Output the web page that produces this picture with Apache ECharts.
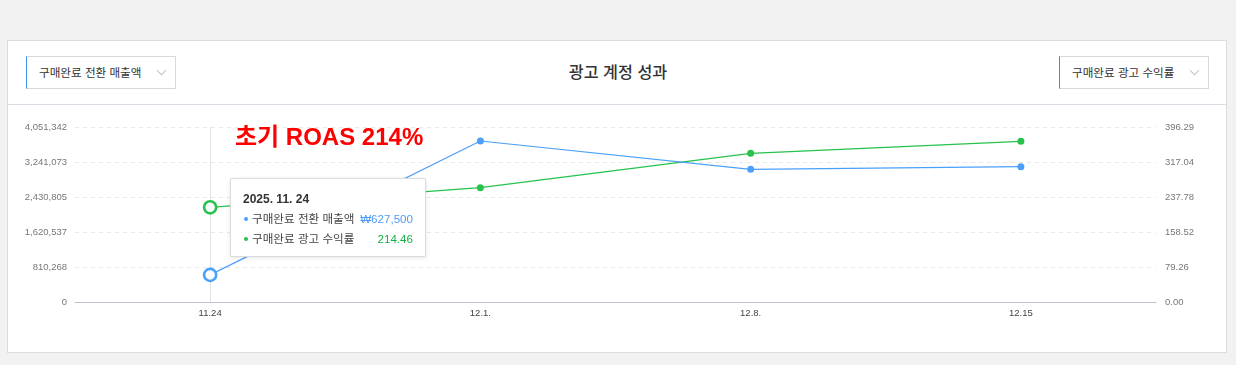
<!DOCTYPE html>
<html>
<head>
<meta charset="utf-8">
<script src="https://cdn.jsdelivr.net/npm/echarts@6/dist/echarts.min.js"></script>
<style>
  html, body { margin:0; padding:0; background:#f2f2f2; width:1236px; height:365px; overflow:hidden;
    font-family:"Liberation Sans","Noto Sans CJK KR",sans-serif; }
  #card { position:absolute; left:7px; top:40px; width:1220px; height:313px; box-sizing:border-box;
    background:#fff; border:1px solid #dcdcdc; }
  #divider { position:absolute; left:8px; top:104px; width:1218px; height:1px; background:#dcdbe6; }
  .dd { position:absolute; top:56px; width:150px; height:33px; box-sizing:border-box; border:1px solid #d9d9d9;
    font-size:11.6px; color:#333; line-height:31px; padding-left:12px; }
  .dd .chev { position:absolute; right:10px; top:10px; width:6px; height:6px; border-right:1px solid #c4c4c4;
    border-bottom:1px solid #c4c4c4; transform:rotate(45deg); }
  #ddL { left:26px; border-left:1px solid #3d8ff0; }
  #ddR { left:1059px; border-left:1px solid #2eae4b; }
  #title { position:absolute; left:0; width:1236px; top:60px; text-align:center; font-size:16.2px; color:#333;
    line-height:24px; font-weight:500; }
  #chart { position:absolute; left:0; top:0; width:1236px; height:365px; z-index:2; }
</style>
</head>
<body>
<div id="card"></div>
<div id="divider"></div>
<div class="dd" id="ddL">구매완료 전환 매출액<span class="chev"></span></div>
<div id="title">광고 계정 성과</div>
<div class="dd" id="ddR">구매완료 광고 수익률<span class="chev"></span></div>
<div id="chart"></div>
<script>
// ---- data ----
const categories = ['11.24', '12.1.', '12.8.', '12.15'];
const fullDates = ['2025. 11. 24', '2025. 12. 1', '2025. 12. 8', '2025. 12. 15'];
const salesName = '구매완료 전환 매출액';
const roasName = '구매완료 광고 수익률';
const salesValues = [627500, 3727000, 3072000, 3133000];
const roasValues = [214.46, 258.8, 336.7, 363.9];
const leftMax = 4051342;
const leftTicks = ['0', '810,268', '1,620,537', '2,430,805', '3,241,073', '4,051,342'];
const rightMax = 396.29;
const rightTicks = ['0.00', '79.26', '158.52', '237.78', '317.04', '396.29'];
const annotation = '초기 ROAS 214%';
const activeIndex = 0;

// ---- styles ----
const BLUE = '#4aa0fb';
const GREEN = '#27c24c';
const FONT = '"Liberation Sans","Noto Sans CJK KR",sans-serif';

function mkData(vals, color) {
  return vals.map((v, i) => i === activeIndex
    ? { value: v, symbolSize: 11, itemStyle: { color: '#fff', borderColor: color, borderWidth: 2.6 } }
    : { value: v });
}
function fmtWon(v) { return '₩' + v.toLocaleString('en-US'); }

const chart = echarts.init(document.getElementById('chart'), null, { renderer: 'canvas' });
chart.setOption({
  animation: false,
  textStyle: { fontFamily: FONT },
  grid: { left: 75, right: 80, top: 127, bottom: 63 },
  axisPointer: { z: 1 },
  xAxis: {
    type: 'category', data: categories, boundaryGap: true,
    axisLine: { lineStyle: { color: '#bfc3cc' } },
    axisTick: { alignWithLabel: true, length: 4, lineStyle: { color: '#c3c7d0' } },
    axisLabel: { color: '#444', fontSize: 9.5, margin: 7, fontFamily: FONT },
    axisPointer: { z: 1 }
  },
  yAxis: [
    {
      type: 'value', min: 0, max: leftMax, interval: leftMax / 5,
      axisLine: { show: false }, axisTick: { show: false },
      splitLine: { lineStyle: { color: '#e8e8e8', type: [4, 4] } },
      axisLabel: { color: '#777', fontSize: 9.5, margin: 8, fontFamily: FONT,
        formatter: (v, i) => leftTicks[i] }
    },
    {
      type: 'value', min: 0, max: rightMax, interval: rightMax / 5,
      axisLine: { show: false }, axisTick: { show: false }, splitLine: { show: false },
      axisLabel: { color: '#777', fontSize: 9.5, margin: 9, fontFamily: FONT,
        formatter: (v, i) => rightTicks[i] }
    }
  ],
  tooltip: {
    trigger: 'axis', triggerOn: 'none', alwaysShowContent: true, position: [230, 178],
    backgroundColor: '#fff', borderColor: '#dcdcdc', borderWidth: 1, padding: [10, 12, 7, 12],
    transitionDuration: 0,
    extraCssText: 'box-shadow:0 1px 4px rgba(0,0,0,0.10);border-radius:1px;width:196px;box-sizing:border-box;',
    axisPointer: { type: 'line', animation: false, z: 1, lineStyle: { color: '#e2e2e2', width: 1, type: 'solid' } },
    formatter: (params) => {
      const idx = params[0].dataIndex;
      const row = (color, name, val, valColor) =>
        '<div style="display:flex;justify-content:space-between;line-height:20px;font-size:11.6px;">' +
        '<span style="color:#444;white-space:nowrap;"><span style="display:inline-block;width:4px;height:4px;border-radius:2px;background:' +
        color + ';vertical-align:middle;margin:0 4px 2px 1px;"></span>' + name + '</span>' +
        '<span style="color:' + valColor + ';white-space:nowrap;">' + val + '</span></div>';
      return '<div style="font-family:' + FONT.replace(/"/g, "'") + ';">' +
        '<div style="font-weight:bold;font-size:12px;color:#333;line-height:20px;">' + fullDates[idx] + '</div>' +
        row(BLUE, salesName, fmtWon(salesValues[idx]), '#4f9cf8') +
        row(GREEN, roasName, roasValues[idx].toFixed(2), '#16b048') +
        '</div>';
    }
  },
  graphic: [{
    type: 'text', left: 235, top: 126, z: 100,
    style: { text: annotation, fill: '#ff0000', fontSize: 24, fontWeight: 'bold', fontFamily: FONT }
  }],
  series: [
    {
      name: salesName, type: 'line', yAxisIndex: 0, data: mkData(salesValues, BLUE),
      symbol: 'circle', symbolSize: 7, showSymbol: true, z: 3,
      itemStyle: { color: BLUE }, lineStyle: { color: BLUE, width: 1.2 },
      emphasis: { disabled: true }
    },
    {
      name: roasName, type: 'line', yAxisIndex: 1, data: mkData(roasValues, GREEN),
      symbol: 'circle', symbolSize: 7, showSymbol: true, z: 2,
      itemStyle: { color: GREEN }, lineStyle: { color: GREEN, width: 1.2 },
      emphasis: { disabled: true }
    }
  ]
});
chart.dispatchAction({ type: 'showTip', seriesIndex: 0, dataIndex: activeIndex });
</script>
</body>
</html>
